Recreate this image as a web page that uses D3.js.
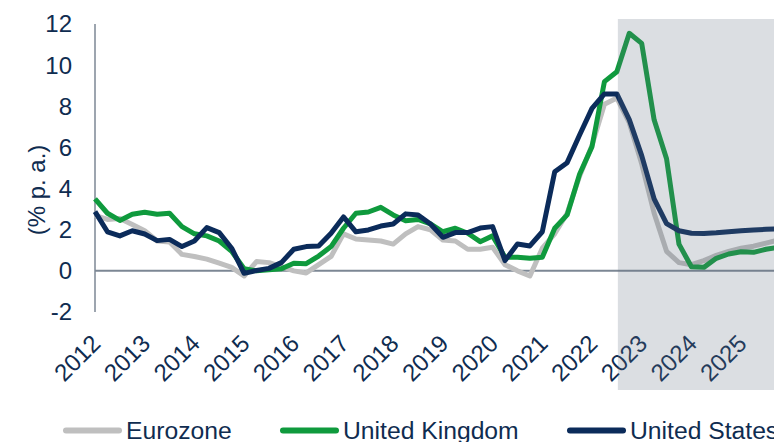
<!DOCTYPE html>
<html>
<head>
<meta charset="utf-8">
<script src="https://cdn.jsdelivr.net/npm/d3@7"></script>
<style>
  html, body { margin: 0; padding: 0; background: #fff; }
  svg { display: block; font-family: "Liberation Sans", Arial, sans-serif; }
</style>
</head>
<body>
<svg id="chart" width="774" height="442"></svg>
<script>
// --- data (quarterly CPI, % y/y, 2012Q1 .. 2025Q4)
const years = [2012, 2013, 2014, 2015, 2016, 2017, 2018, 2019, 2020, 2021, 2022, 2023, 2024, 2025];
const yTicks = [-2, 0, 2, 4, 6, 8, 10, 12];
const forecastFrom = 2022.5;

const eurozone = [
  2.7, 2.5, 2.55, 2.25,   1.95, 1.45, 1.4, 0.8,   0.7, 0.57, 0.37, 0.17,
  -0.25, 0.45, 0.4, 0.2,  0.0, -0.1, 0.3, 0.7,    1.8, 1.55, 1.5, 1.45,
  1.3, 1.8, 2.15, 2.0,    1.5, 1.45, 1.05, 1.05,  1.15, 0.3, 0.0, -0.25,
  1.1, 1.8, 2.8, 4.6,     6.1, 8.1, 8.4, 7.2,     5.2, 2.8, 0.95, 0.4,
  0.3, 0.5, 0.75, 0.95,   1.1, 1.2, 1.35, 1.5
];
const unitedKingdom = [
  3.5, 2.8, 2.45, 2.75,   2.85, 2.75, 2.8, 2.15,  1.8, 1.7, 1.45, 0.95,
  0.1, 0.0, 0.05, 0.1,    0.37, 0.35, 0.72, 1.18, 2.07, 2.8, 2.86, 3.09,
  2.72, 2.44, 2.5, 2.28,  1.9, 2.07, 1.83, 1.42,  1.7, 0.66, 0.66, 0.61,
  0.66, 2.07, 2.72, 4.7,  6.04, 9.2, 9.68, 11.55, 11.06, 7.34, 5.45, 1.3,
  0.2, 0.17, 0.61, 0.82,  0.93, 0.9, 1.05, 1.15
];
const unitedStates = [
  2.88, 1.9, 1.7, 1.95,   1.79, 1.47, 1.53, 1.18, 1.45, 2.1, 1.86, 1.1,
  -0.12, 0.02, 0.12, 0.4, 1.05, 1.18, 1.21, 1.83, 2.62, 1.9, 1.99, 2.18,
  2.28, 2.77, 2.72, 2.28, 1.63, 1.86, 1.86, 2.08, 2.15, 0.5, 1.31, 1.21,
  1.9, 4.82, 5.26, 6.6,   7.9, 8.6, 8.6, 7.35,    5.6, 3.5, 2.3, 1.95,
  1.83, 1.82, 1.85, 1.9,  1.95, 1.99, 2.02, 2.05
];

const seriesNames = ["Eurozone", "United Kingdom", "United States"];
const seriesColors = ["#bfbfbf", "#0f9a3d", "#0b2b5a"];
const textColor = "#0f2c50";

// quarter positions derived from the year list
const quarters = [];
years.forEach(y => { for (let q = 0; q < 4; q++) quarters.push(y + q / 4); });

const svg = d3.select("#chart");
const W = 774, H = 442;

const x = d3.scaleLinear().domain([2012, 2026]).range([95, 95 + 14 * 49.7]);
const y = d3.scaleLinear().domain([-2, 12]).range([312, 24]);

// y axis line + zero line
svg.append("line")
  .attr("x1", x(2012)).attr("x2", x(2012))
  .attr("y1", y(12)).attr("y2", y(-2))
  .attr("stroke", "#7c8794").attr("stroke-width", 1.5);
svg.append("line")
  .attr("x1", x(2012)).attr("x2", W)
  .attr("y1", y(0)).attr("y2", y(0))
  .attr("stroke", "#7c8794").attr("stroke-width", 2);

// y tick labels
svg.append("g").selectAll("text").data(yTicks).join("text")
  .attr("x", 72).attr("y", d => y(d)).attr("dy", "0.35em")
  .attr("text-anchor", "end")
  .attr("font-size", 24).attr("fill", textColor)
  .text(d => d);

svg.append("text")
  .attr("transform", "translate(45," + 190 + ") rotate(-90)")
  .attr("text-anchor", "middle")
  .attr("font-size", 24).attr("fill", textColor)
  .text("(% p. a.)");

// x tick labels, rotated
svg.append("g").selectAll("text").data(years).join("text")
  .attr("transform", d => "translate(" + (x(d) + 7) + ",345) rotate(-45)")
  .attr("text-anchor", "end")
  .attr("font-size", 24).attr("fill", textColor)
  .text(d => d);

// lines
const line = d3.line()
  .x((d, i) => x(quarters[i]))
  .y(d => y(d));

[eurozone, unitedKingdom, unitedStates].forEach((s, k) => {
  svg.append("path")
    .datum(s)
    .attr("d", line)
    .attr("fill", "none")
    .attr("stroke", seriesColors[k])
    .attr("stroke-width", 5)
    .attr("stroke-linejoin", "round");
});

// forecast shading (translucent overlay on top)
svg.append("rect")
  .attr("x", x(forecastFrom) + 1).attr("y", 19)
  .attr("width", W - x(forecastFrom)).attr("height", 390 - 19)
  .attr("fill", "rgb(100,113,131)").attr("fill-opacity", 0.23);

// legend
const legendX = [63, 280, 567];
const lg = svg.append("g").selectAll("g").data(seriesNames).join("g")
  .attr("transform", (d, i) => "translate(" + legendX[i] + ",0)");
lg.append("line")
  .attr("x1", 3).attr("x2", 56).attr("y1", 430.5).attr("y2", 430.5)
  .attr("stroke", (d, i) => seriesColors[i])
  .attr("stroke-width", 6).attr("stroke-linecap", "round");
lg.append("text")
  .attr("x", 63).attr("y", 438.5)
  .attr("font-size", 24.7).attr("fill", textColor)
  .text(d => d);
</script>
</body>
</html>
